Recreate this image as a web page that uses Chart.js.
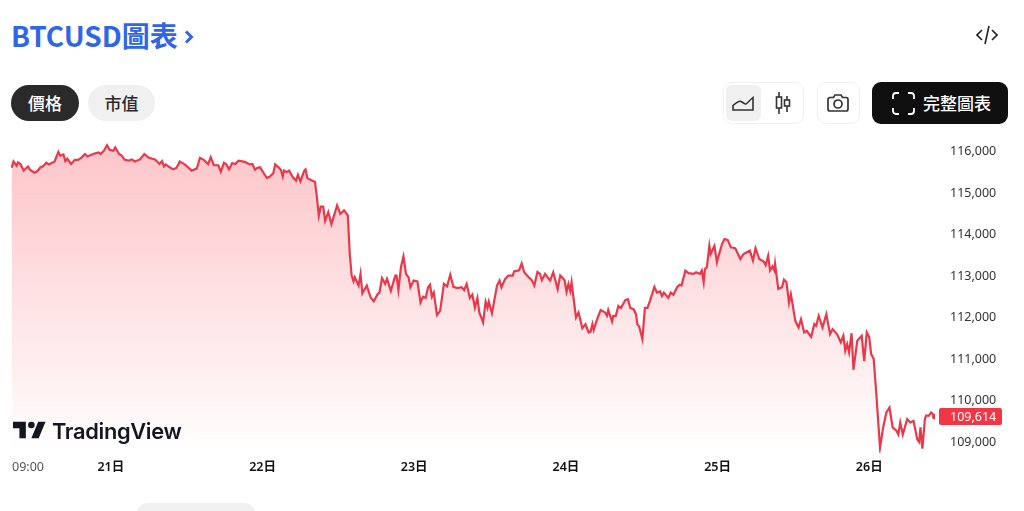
<!DOCTYPE html>
<html lang="zh-Hant">
<head>
<meta charset="utf-8">
<title>BTCUSD圖表</title>
<script src="https://cdn.jsdelivr.net/npm/chart.js@4"></script>
<style>
    html, body { margin: 0; padding: 0; background: #fff; width: 1024px; height: 511px; overflow: hidden; }
    body { position: relative; font-family: "Noto Sans CJK TC", "Noto Sans", sans-serif; }
    .abs { position: absolute; box-sizing: border-box; }
    #titulo { left: 11px; top: 14px; font-size: 28px; line-height: 42px; font-weight: 700; color: #2f66e3; white-space: nowrap; }
    .pill { top: 85px; height: 36px; border-radius: 18px; font-size: 17px; line-height: 36px; text-align: center; font-weight: 500; }
    #precio { left: 11px; width: 68px; background: #2a2a2a; color: #fff; }
    #cap { left: 88px; width: 67px; background: #f0f0f0; color: #2a2a2a; }
    .caja { top: 82px; height: 42px; border: 1px solid #f0f0f0; border-radius: 9px; background: #fff; }
    #activo { left: 726px; top: 85px; width: 35px; height: 36px; background: #f0f0f0; border-radius: 6px; }
    #completo { left: 872px; top: 82px; width: 136px; height: 42px; background: #0f0f0f; border-radius: 9px; color: #fff; font-size: 17px; font-weight: 500; line-height: 42px; padding-left: 51px; }
    #grafico { left: 5px; top: 118px; width: 1019px; height: 363px; }
    #marca { left: 52px; top: 415px; font-family: Inter, sans-serif; font-size: 21.8px; line-height: 32px; font-weight: 600; color: #131722; letter-spacing: -0.3px; }
    #abajo { left: 137px; top: 503px; width: 118px; height: 20px; background: #f0f0f0; border-radius: 10px; }
</style>
</head>
<body>
<div class="abs" id="titulo">BTCUSD圖表</div>
<svg class="abs" style="left:184px;top:29px" width="10" height="16" viewBox="0 0 10 16"><path d="M2 2.5l5.5 5.5-5.5 5.5" fill="none" stroke="#2f66e3" stroke-width="3"/></svg>
<svg class="abs" style="left:976px;top:25px" width="22" height="20" viewBox="0 0 22 20" fill="none" stroke="#222" stroke-width="1.6"><path d="M6 5l-5 5 5 5M16 5l5 5-5 5M13 1L9 19"/></svg>

<div class="abs pill" id="precio">價格</div>
<div class="abs pill" id="cap">市值</div>

<div class="abs caja" style="left:723px;width:81px"></div>
<div class="abs" id="activo"></div>
<svg class="abs" style="left:731px;top:94px" width="24" height="18" viewBox="0 0 24 18" fill="none" stroke="#333" stroke-width="1.6"><path d="M2 16V11.5C5 9 8 6.5 10 7.5c2 1 4 3 5 2.5s4-4 7-6.5V16z"/></svg>
<svg class="abs" style="left:773px;top:91px" width="20" height="24" viewBox="0 0 20 24" fill="none" stroke="#333" stroke-width="1.6"><path d="M6 1v22M14 5v16"/><rect x="3.5" y="6" width="5" height="11" fill="#fff"/><rect x="11.5" y="9" width="5" height="6" fill="#fff"/></svg>
<div class="abs caja" style="left:817px;width:43px"></div>
<svg class="abs" style="left:826px;top:93px" width="24" height="20" viewBox="0 0 24 20" fill="none" stroke="#333" stroke-width="1.7"><path d="M2 6.5a2 2 0 0 1 2-2h3.5L9 2h6l1.5 2.5H20a2 2 0 0 1 2 2V16a2 2 0 0 1-2 2H4a2 2 0 0 1-2-2z"/><circle cx="12" cy="11" r="4"/></svg>
<div class="abs" id="completo">完整圖表</div>
<svg class="abs" style="left:892px;top:92px" width="23" height="23" viewBox="0 0 23 23" fill="none" stroke="#fff" stroke-width="1.8"><path d="M1 7V4a3 3 0 0 1 3-3h3M16 1h3a3 3 0 0 1 3 3v3M22 16v3a3 3 0 0 1-3 3h-3M7 22H4a3 3 0 0 1-3-3v-3"/></svg>

<div class="abs" id="grafico"><canvas id="precioChart"></canvas></div>

<svg class="abs" style="left:13px;top:419px" width="33" height="22" viewBox="0 3 36 20" fill="#131722"><path d="M14 22H7V11H0V4h14v18zM28 22h-8l7.5-18h8L28 22z"/><circle cx="20" cy="7.5" r="3.6"/></svg>
<div class="abs" id="marca">TradingView</div>
<div class="abs" id="abajo"></div>

<script>
// horas desde el 21日 00:00
const horas = [
    -15.7, -15.4, -14.9, -14.7, -14.3, -13.8, -13.1, -12.8, -12.1, -11.6, -11.2, -10.7, -10.2, -9.8, -8.9, -8.3, -8.0, -7.5, -7.2, -6.9,
    -6.3, -5.7, -5.2, -4.6, -4.1, -3.7, -2.8, -2.0, -1.6, -1.1, -0.6, -0.2, 0.4, 0.7, 1.3, 1.7, 2.2, 2.8, 3.3, 3.8,
    4.6, 5.3, 6.0, 7.0, 7.7, 8.1, 8.4, 8.7, 9.3, 9.9, 10.4, 10.9, 11.7, 12.8, 13.6, 14.1, 14.7, 15.4, 15.8, 16.3,
    17.0, 17.4, 17.9, 18.3, 18.7, 19.2, 19.7, 20.2, 21.2, 22.0, 22.4, 22.8, 23.2, 23.6, 24.1, 24.7, 25.2, 25.7, 26.0, 26.6,
    26.9, 27.2, 27.4, 27.8, 28.2, 28.8, 29.3, 29.6, 30.0, 30.6, 30.8, 31.1, 31.8, 32.3, 32.6, 32.9, 33.2, 33.6, 33.9, 34.4,
    34.9, 35.3, 35.8, 36.3, 36.9, 37.5, 37.8, 38.1, 38.4, 38.6, 39.2, 39.5, 39.8, 40.5, 41.1, 41.6, 42.2, 42.5, 42.9, 43.4,
    43.7, 44.3, 45.0, 45.2, 45.5, 45.9, 46.3, 46.7, 47.1, 47.4, 47.9, 48.5, 49.0, 49.4, 49.8, 50.2, 50.5, 50.8, 51.1, 51.6,
    52.1, 52.7, 53.2, 53.7, 54.2, 54.8, 55.5, 55.9, 56.3, 56.8, 57.2, 57.6, 58.0, 58.3, 58.9, 59.3, 59.6, 59.8, 60.3, 61.1,
    61.5, 61.8, 62.4, 62.9, 63.6, 63.8, 64.6, 65.0, 65.4, 66.1, 66.6, 67.0, 67.5, 67.9, 68.2, 68.7, 69.5, 70.0, 70.7, 71.1,
    71.5, 71.8, 72.1, 72.4, 72.7, 72.9, 73.2, 73.6, 74.0, 74.6, 75.1, 75.6, 75.9, 76.2, 76.4, 76.9, 77.5, 78.2, 78.5, 78.7,
    79.3, 79.5, 79.9, 80.3, 80.7, 81.4, 81.8, 82.2, 82.7, 83.1, 83.3, 83.6, 84.1, 84.5, 84.9, 85.3, 86.0, 86.4, 86.9, 87.2,
    87.5, 88.2, 88.6, 89.0, 89.6, 90.0, 90.3, 90.9, 91.4, 92.2, 92.6, 93.2, 93.5, 93.8, 94.0, 94.3, 94.7, 94.9, 95.5, 95.9,
    96.1, 96.7, 97.1, 97.6, 98.1, 98.8, 99.6, 100.1, 101.1, 101.6, 102.0, 102.6, 103.3, 103.6, 104.0, 104.3, 104.7, 105.0, 105.1, 105.6,
    106.2, 106.5, 106.9, 107.3, 107.6, 108.3, 108.8, 109.2, 109.7, 110.1, 110.8, 111.3, 111.6, 112.0, 112.6, 113.2, 113.8, 114.2, 114.9, 115.5,
    115.9, 116.2, 116.5, 116.8, 117.2, 117.5, 118.1, 118.8, 119.2, 119.6, 120.0, 120.3, 120.7, 121.1, 121.7, 122.2, 122.7, 123.2, 123.7, 124.3,
    124.6, 124.9, 125.3, 126.0, 126.5, 127.0, 127.6, 127.9, 128.1, 128.4, 128.8, 129.0, 129.4, 129.8, 130.4
];

const precios = [
    115610, 115760, 115660, 115740, 115700, 115540, 115640, 115560, 115490, 115530, 115610, 115650, 115730, 115690, 115760, 115990, 115900, 115930, 115770, 115830,
    115700, 115800, 115800, 115860, 115940, 115880, 115940, 115980, 115940, 116020, 116150, 116040, 116020, 116100, 115940, 115900, 115800, 115780, 115810, 115760,
    115810, 115940, 115850, 115810, 115700, 115770, 115640, 115690, 115620, 115570, 115610, 115760, 115690, 115540, 115590, 115850, 115800, 115700, 115860, 115670,
    115670, 115510, 115730, 115690, 115570, 115720, 115700, 115780, 115750, 115690, 115700, 115560, 115610, 115620, 115500, 115360, 115400, 115480, 115690, 115610,
    115560, 115400, 115540, 115500, 115540, 115380, 115300, 115440, 115280, 115540, 115570, 115360, 115300, 115270, 114900, 114450, 114670, 114670, 114330, 114540,
    114250, 114450, 114700, 114500, 114580, 114460, 113530, 113010, 112870, 112970, 112770, 113050, 112580, 112770, 112480, 112390, 112560, 112600, 112950, 112810,
    112930, 112640, 113010, 113010, 112660, 113210, 113470, 113050, 112970, 112730, 112890, 112870, 112360, 112500, 112470, 112730, 112790, 112500, 112600, 112060,
    112160, 112810, 112750, 113030, 112740, 112710, 112730, 112660, 112810, 112470, 112550, 112240, 112470, 112120, 111880, 112380, 112230, 112380, 112100, 112770,
    112890, 112730, 112930, 113010, 113010, 113110, 113140, 113300, 113090, 112970, 112900, 112770, 113100, 113050, 112900, 113050, 112890, 113090, 112680, 113010,
    112950, 112890, 112620, 112810, 112640, 112850, 112480, 112000, 112120, 111740, 111840, 111640, 111660, 111840, 111700, 111940, 112180, 112120, 112040, 112180,
    111900, 112040, 112040, 112280, 112230, 112420, 112440, 112230, 112200, 112080, 111840, 111780, 111480, 112230, 112230, 112400, 112740, 112600, 112630, 112520,
    112600, 112470, 112600, 112550, 112730, 112790, 112770, 113130, 113070, 113050, 113090, 113050, 113130, 112850, 113170, 113210, 113730, 113530, 113730, 113330,
    113450, 113770, 113890, 113870, 113690, 113670, 113410, 113530, 113610, 113370, 113670, 113410, 113350, 113260, 113490, 113130, 113230, 113130, 113290, 112690,
    112730, 112910, 112850, 112350, 112560, 111920, 111760, 111960, 111640, 111680, 111530, 111840, 111800, 112040, 111760, 112080, 111600, 111720, 111600, 111400,
    111560, 111200, 111360, 111160, 111620, 110740, 111440, 111560, 110950, 111640, 111520, 111120, 111000, 110190, 108860, 109350, 109710, 109830, 109350, 109270,
    109180, 109470, 109180, 109550, 109470, 109510, 109060, 109000, 109350, 108840, 109550, 109640, 109630, 109710, 109614
];

const ticksPrecio = [109000, 110000, 111000, 112000, 113000, 114000, 115000, 116000];
const ticksHora = [-13.1, 0, 24, 48, 72, 96, 120];
const etiquetasHora = ['09:00', '21日', '22日', '23日', '24日', '25日', '26日'];

const rojo = '#e8394c';

// Etiqueta del ultimo precio sobre el eje derecho
const ultimoPrecio = {
    id: 'ultimoPrecio',
    afterDraw(chart) {
        const { ctx, chartArea, scales } = chart;
        const valor = precios[precios.length - 1];
        const y = scales.y.getPixelForValue(valor);
        ctx.save();
        ctx.fillStyle = '#f23645';
        ctx.beginPath();
        ctx.roundRect(chartArea.right + 4, y - 8.5, 63, 17, 2);
        ctx.fill();
        ctx.fillStyle = '#fff';
        ctx.font = '12.5px "Noto Sans"';
        ctx.textBaseline = 'middle';
        ctx.textAlign = 'left';
        ctx.fillText(valor.toLocaleString('en-US'), chartArea.right + 15, y + 0.5);
        ctx.restore();
    }
};

const graficoPrecio = document.getElementById('precioChart').getContext('2d');

const precioChart = new Chart(graficoPrecio, {
    type: 'line',
    data: {
        datasets: [{
            label: 'BTCUSD',
            data: horas.map((h, i) => ({ x: h, y: precios[i] })),
            borderColor: rojo,
            borderWidth: 2.2,
            tension: 0,
            fill: 'start',
            pointRadius: ctx => ctx.dataIndex === horas.length - 1 ? 3 : 0,
            pointBackgroundColor: rojo,
            pointBorderWidth: 0,
            backgroundColor: ctx => {
                const area = ctx.chart.chartArea;
                if (!area) return 'transparent';
                const g = ctx.chart.ctx.createLinearGradient(0, area.top, 0, area.bottom);
                g.addColorStop(0, 'rgba(247, 60, 72, 0.3)');
                g.addColorStop(1, 'rgba(247, 60, 72, 0)');
                return g;
            }
        }]
    },
    options: {
        responsive: true,
        maintainAspectRatio: false,
        animation: false,
        layout: { padding: 0 },
        plugins: {
            legend: { display: false },
            title: { display: false },
            tooltip: { enabled: false }
        },
        scales: {
            x: {
                type: 'linear',
                min: -15.8,
                max: 130.4,
                grid: { display: false, drawTicks: false },
                border: { display: false },
                afterBuildTicks: axis => { axis.ticks = ticksHora.map(value => ({ value })); },
                afterFit: axis => { axis.height = 28; },
                ticks: {
                    autoSkip: false,
                    maxRotation: 0,
                    padding: 7,
                    color: ctx => ctx.index === 0 ? '#555' : '#111',
                    font: ctx => ({ family: '"Noto Sans", "Noto Sans CJK TC"', size: 12.5, weight: ctx.index === 0 ? 'normal' : '600' }),
                    callback: (value, i) => etiquetasHora[i]
                }
            },
            y: {
                position: 'right',
                min: 108734,
                max: 116266,
                grid: { display: false, drawTicks: false },
                border: { display: false },
                afterBuildTicks: axis => { axis.ticks = ticksPrecio.map(value => ({ value })); },
                afterFit: axis => { axis.width = 89; },
                ticks: {
                    padding: 15,
                    color: '#333',
                    font: { family: '"Noto Sans"', size: 12.5 },
                    callback: value => value.toLocaleString('en-US')
                }
            }
        }
    },
    plugins: [ultimoPrecio]
});
</script>
</body>
</html>
